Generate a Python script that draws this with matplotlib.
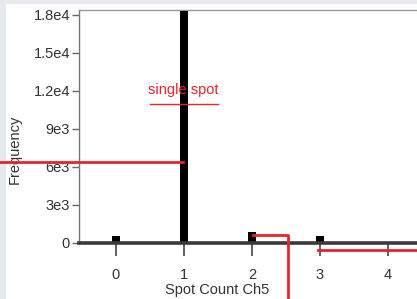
import matplotlib
matplotlib.use("Agg")
import matplotlib.pyplot as plt
from matplotlib.lines import Line2D
from matplotlib.patches import Rectangle

# Data
spot_counts = [0, 1, 2, 3, 4]
frequencies = [550, 18300, 840, 550, 0]
ytick_vals = [0, 3000, 6000, 9000, 12000, 15000, 18000]
ytick_labels = ["0", "3e3", "6e3", "9e3", "1.2e4", "1.5e4", "1.8e4"]
xlabel = "Spot Count Ch5"
ylabel = "Frequency"
annotation = "single spot"

W, H = 417, 299
plt.rcParams['font.family'] = ['Liberation Sans', 'DejaVu Sans']
fig = plt.figure(figsize=(W / 100, H / 100), dpi=100)
fig.patch.set_facecolor('#e6e9ee')
# white panel
fig.add_artist(Rectangle((6 / W, 0), 1, 1 - 4 / H, transform=fig.transFigure,
                         facecolor='white', edgecolor='none', zorder=0))

ax = fig.add_axes([79 / W, (H - 243) / H, (W - 79) / W, 233 / H])
ax.set_facecolor('none')
ax.bar(spot_counts, frequencies, width=0.115, color='black', zorder=3)
ax.set_xlim(-0.544, 4.426)
ax.set_ylim(0, 18370)

text_col = '#333333'
for s in ['right', 'bottom']:
    ax.spines[s].set_visible(False)
ax.spines['left'].set_color('#777777')
ax.spines['left'].set_linewidth(1.0)
ax.spines['top'].set_color('#999999')
ax.spines['top'].set_linewidth(1.0)
ax.axhline(0, color='#3a3a3a', linewidth=2.6, zorder=4, clip_on=False)

ax.set_yticks(ytick_vals)
ax.set_yticklabels(ytick_labels)
ax.set_xticks(spot_counts)
ax.set_xticklabels([str(v) for v in spot_counts])
ax.tick_params(axis='y', direction='out', length=5, width=1, color='#666666',
               labelsize=10.5, labelcolor=text_col, pad=1.5)
ax.tick_params(axis='x', direction='out', length=9, width=1.2, color='#444444',
               labelsize=10.5, labelcolor=text_col, pad=9)
ax.set_xlabel(xlabel, fontsize=10.5, color=text_col, labelpad=0.5)
ax.xaxis.label.set_x(0.408)
ax.set_ylabel(ylabel, fontsize=10.5, color=text_col, labelpad=2)
ax.yaxis.set_label_coords(-0.17, 0.4)

# Red annotations (figure pixel coords)
red = '#e8242b'
def fl(xs, ys, lw=2.0):
    fig.add_artist(Line2D([x / W for x in xs], [1 - y / H for y in ys],
                          color=red, linewidth=lw, transform=fig.transFigure, zorder=10))

fl([0, 183], [161.5, 161.5])
fl([253, 288, 288], [234.5, 234.5, 299])
fl([318, 417], [250, 250])
fl([150, 218], [104, 104], lw=1.0)
fig.text(183 / W, 1 - 90 / H, annotation, color=red, fontsize=10.5,
         ha='center', va='center', zorder=10)

fig.savefig("out.png", dpi=100, facecolor=fig.get_facecolor())
